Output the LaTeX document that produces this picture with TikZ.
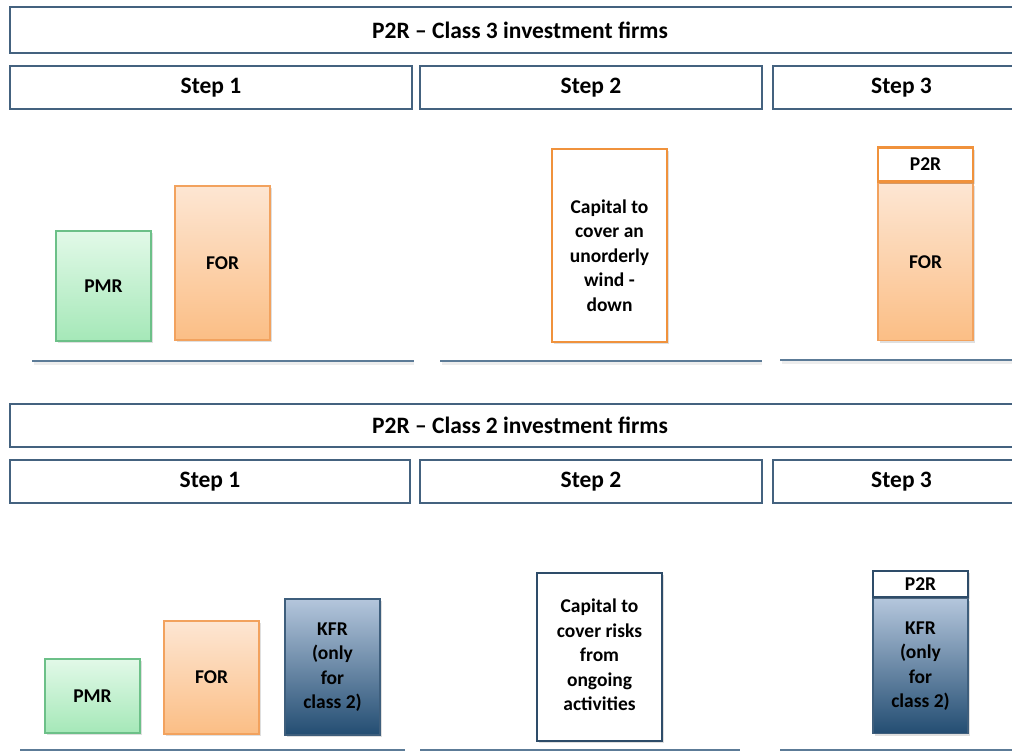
\documentclass[tikz,border=0pt]{standalone}
\usepackage{fontspec}
\setmainfont{Carlito}
\usetikzlibrary{shadows}
\definecolor{frame}{HTML}{44627F}
\definecolor{rule}{HTML}{5C7B97}
\definecolor{grtop}{HTML}{E2F9E8}
\definecolor{grbot}{HTML}{A5E8B8}
\definecolor{grline}{HTML}{6CC088}
\definecolor{ortop}{HTML}{FDE6D3}
\definecolor{orbot}{HTML}{FBBE85}
\definecolor{orline}{HTML}{F2A25E}
\definecolor{ordark}{HTML}{F0923C}
\definecolor{bltop}{HTML}{B4C6DC}
\definecolor{blbot}{HTML}{234D72}
\definecolor{blline}{HTML}{3E5E7C}
\definecolor{bldark}{HTML}{2E4C69}
\newcommand{\stack}[1]{\begin{tabular}{@{}c@{}}#1\end{tabular}}
\tikzset{
  header/.style={draw=frame, line width=1.2pt, fill=white, inner sep=0pt,
    font=\fontsize{23.5}{26}\selectfont\bfseries},
  block/.style={inner sep=0pt, align=center, font=\fontsize{19.5}{24.5}\selectfont\bfseries,
    drop shadow={shadow xshift=1.5pt, shadow yshift=-2pt, opacity=0.25}},
  pmrbox/.style={block, draw=grline, line width=1.2pt, top color=grtop, bottom color=grbot},
  forbox/.style={block, draw=orline, line width=1.2pt, top color=ortop, bottom color=orbot},
  kfrbox/.style={block, draw=blline, line width=1.2pt, top color=bltop, bottom color=blbot},
  capor/.style={block, draw=ordark, line width=2.8pt, fill=white},
  capbl/.style={block, draw=bldark, line width=2.4pt, fill=white},
  ptwor/.style={block, draw=ordark, line width=2.8pt, fill=white},
  ptwobl/.style={block, draw=bldark, line width=2.2pt, fill=white},
  baseline/.style={draw=rule, line width=1.4pt},
  baseshade/.style={draw=black!7, line width=2.5pt},
}
\begin{document}
\begin{tikzpicture}[x=1pt, y=-1pt]
\useasboundingbox (0,0) rectangle (1012,752);
\clip (0,0) rectangle (1012,752);
\fill[white] (0,0) rectangle (1012,752);

% ---------- Class 3 ----------
\node[header, minimum width=1020, minimum height=46] (t3) at (520,30) {P2R – Class 3 investment firms};
\node[header, minimum width=402, minimum height=43] (a1) at (211,87.5) {Step 1};
\node[header, minimum width=342, minimum height=43] (a2) at (591,87.5) {Step 2};
\node[header, minimum width=257, minimum height=43] (a3) at (901.5,87.5) {Step 3};

\foreach \xa/\xb/\yy in {32/414/361, 440/762/361, 780/1020/360}{
  \draw[baseshade] (\xa+2,\yy+2.5) -- (\xb,\yy+2.5);
  \draw[baseline] (\xa,\yy) -- (\xb,\yy);
}

\node[pmrbox, minimum width=95, minimum height=110] (pmr3) at (103.5,286) {PMR};
\node[forbox, minimum width=95, minimum height=154] (for3) at (222.5,263) {FOR};
% text sits a little below the middle of this box
\node[capor, minimum width=115, minimum height=193] (cap3) at (609.5,245.5)
  {\raisebox{-17pt}[0pt][0pt]{\stack{Capital to\\cover an\\unorderly\\wind -\\down}}};
\node[forbox, minimum width=95, minimum height=157, anchor=north] (for3b) at (925.5,183) {FOR};
\node[ptwor, minimum width=95, minimum height=34, anchor=south] (p2r3) at (for3b.north) {P2R};

% ---------- Class 2 ----------
\node[header, minimum width=1020, minimum height=43] (t2) at (520,425.5) {P2R – Class 2 investment firms};
\node[header, minimum width=400, minimum height=43] (b1) at (210,481.5) {Step 1};
\node[header, minimum width=342, minimum height=43] (b2) at (591,481.5) {Step 2};
\node[header, minimum width=257, minimum height=43] (b3) at (901.5,481.5) {Step 3};

\foreach \xa/\xb/\yy in {20/405/750, 420/740/750, 780/1020/750}{
  \draw[baseline] (\xa,\yy) -- (\xb,\yy);
}

\node[pmrbox, minimum width=95, minimum height=74] (pmr2) at (92.5,696) {PMR};
\node[forbox, minimum width=95, minimum height=113] (for2) at (211.5,677.5) {FOR};
\node[kfrbox, minimum width=95, minimum height=136] (kfr2) at (332.5,667)
  {\stack{KFR\\(only\\for\\class 2)}};
\node[capbl, minimum width=125, minimum height=168] (cap2) at (599.5,657)
  {\stack{Capital to\\cover risks\\from\\ongoing\\activities}};
\node[kfrbox, minimum width=95, minimum height=135, anchor=north] (kfr2b) at (920.5,598)
  {\stack{KFR\\(only\\for\\class 2)}};
\node[ptwobl, minimum width=95, minimum height=26, anchor=south] (p2r2) at (kfr2b.north) {P2R};
\end{tikzpicture}
\end{document}
